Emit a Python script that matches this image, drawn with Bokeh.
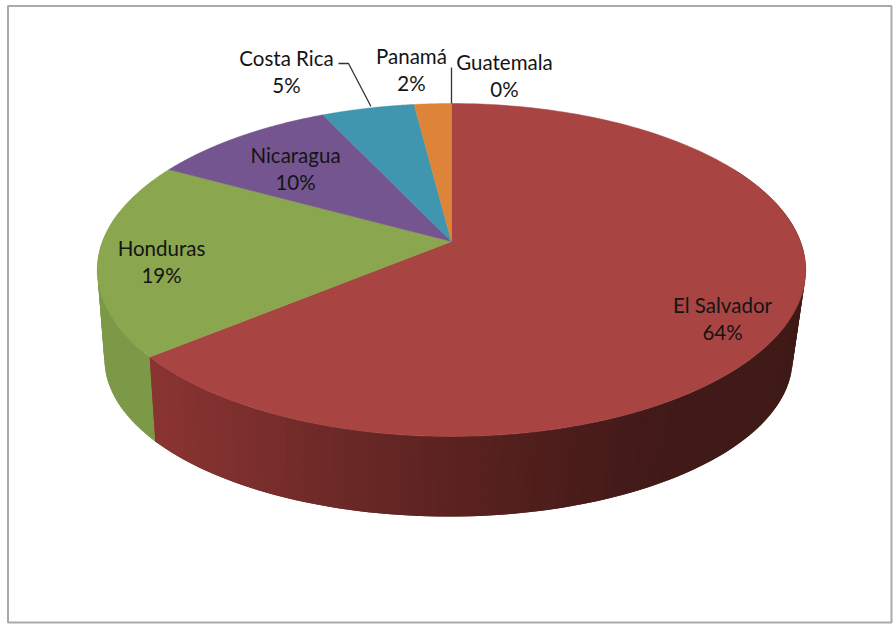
import numpy as np
from bokeh.core.properties import value
from bokeh.embed import file_html
from bokeh.models import ColumnDataSource, Range1d
from bokeh.plotting import figure
from bokeh.resources import INLINE

# Share of each country, in percent, clockwise from twelve o'clock
countries = ["El Salvador", "Honduras", "Nicaragua", "Costa Rica", "Panamá", "Guatemala"]
shares = [64, 19, 10, 5, 2, 0]
top_colors = ["#a84543", "#8aa64f", "#74558f", "#4096ae", "#dd8439", "#dd8439"]

# Label centres on the canvas
label_x = [722, 161, 295, 286, 411, 504]
label_y = [318, 261, 168, 71, 69, 75]

# Projection of the tilted disc
PERSPECTIVE = 0.171
TOP_FACE = dict(cx=451.0, cy=241.0, a=349.0, b=161.6)
BOTTOM_FACE = dict(cx=448.0, cy=331.5, a=339.0, b=153.0)

# Shading of the side wall, left to right
RED_WALL_X = [157, 250, 350, 450, 550, 650, 805]
RED_WALL_RGB = [(138, 52, 50), (124, 47, 45), (106, 41, 39), (92, 35, 32), (78, 30, 27), (66, 26, 24), (62, 26, 23)]
GREEN_WALL_COLOR = "#7c9947"
WALL_START, WALL_END = 0.17, 0.78


def project(turn, face):
    """Map a pie angle (in turns, clockwise from the top) to the canvas."""
    t = np.asarray(turn) * 2 * np.pi
    u, f = np.sin(t), -np.cos(t)
    w = 1 - PERSPECTIVE * f
    return face["cx"] + face["a"] * u / w, face["cy"] + face["b"] * f / w


def wall_quads(start, end, count):
    """Narrow overlapping quads between the top and bottom rims, so no joins show."""
    turns = np.linspace(start, end, count)
    step = turns[1] - turns[0]
    xs, ys = [], []
    for t0 in turns[:-1]:
        t1 = min(t0 + 2 * step, end)
        x0, y0 = project(t0, TOP_FACE)
        x1, y1 = project(t1, TOP_FACE)
        x2, y2 = project(t1, BOTTOM_FACE)
        x3, y3 = project(t0, BOTTOM_FACE)
        xs.append([x0, x1, x2, x3])
        ys.append([y0, y1, y2, y3])
    return xs, ys


edges = np.concatenate([[0], np.cumsum(shares)]) / 100.0
red_end = edges[1]

p = figure(
    width=893, height=625, output_backend="svg", toolbar_location=None,
    x_range=Range1d(0, 893), y_range=Range1d(625, 0),
    min_border=0, outline_line_color=None, background_fill_color="white",
)
p.axis.visible = False
p.grid.visible = False

# Chart frame
p.quad(left=[7.5], right=[891], top=[5.5], bottom=[622], fill_color="white",
       line_color="#a9a9a9", line_width=2)

# Side wall of the second slice, in one flat colour
gx, gy = wall_quads(red_end - 0.005, WALL_END, 40)
p.patches(xs=gx, ys=gy, fill_color=GREEN_WALL_COLOR, line_color=None)

# Side wall of the first slice, shaded along its length
wx, wy = wall_quads(WALL_START, red_end, 140)
wc = []
for xs in wx:
    mid = (xs[0] + xs[3]) / 2
    rgb = [np.interp(mid, RED_WALL_X, [c[i] for c in RED_WALL_RGB]) for i in range(3)]
    wc.append("#%02x%02x%02x" % tuple(int(round(c)) for c in rgb))
p.patches(xs="x", ys="y", fill_color="c", line_color=None,
          source=ColumnDataSource(dict(x=wx, y=wy, c=wc)))

# Top face: one wedge per country, running from the apex out to the rim
sx, sy, sc = [], [], []
for start, end, color in zip(edges[:-1], edges[1:], top_colors):
    if end <= start:
        continue
    rim_x, rim_y = project(np.linspace(start, end, 160), TOP_FACE)
    sx.append([TOP_FACE["cx"], *rim_x])
    sy.append([TOP_FACE["cy"], *rim_y])
    sc.append(color)
p.patches(xs="x", ys="y", fill_color="c", line_color="c", line_width=0.5,
          source=ColumnDataSource(dict(x=sx, y=sy, c=sc)))

# Leader lines for the small outer labels
cr_x, cr_y = project((edges[3] + edges[4]) / 2, TOP_FACE)
p.line([338, 348, cr_x + 3], [63, 63, cr_y - 2], line_color="#333333", line_width=1.3)
gu_x, gu_y = project(edges[5], TOP_FACE)
p.line([gu_x, gu_x], [67, gu_y], line_color="#333333", line_width=1.3)

# Name and percentage labels
texts = [f"{name}\n{share}%" for name, share in zip(countries, shares)]
p.text(x=label_x, y=label_y, text=texts, text_font=value("Lato"), text_font_size="20.5px",
       text_color="#141414", text_align="center", text_baseline="middle", text_line_height=1.1)

open("out.html", "w").write(file_html(p, INLINE))
